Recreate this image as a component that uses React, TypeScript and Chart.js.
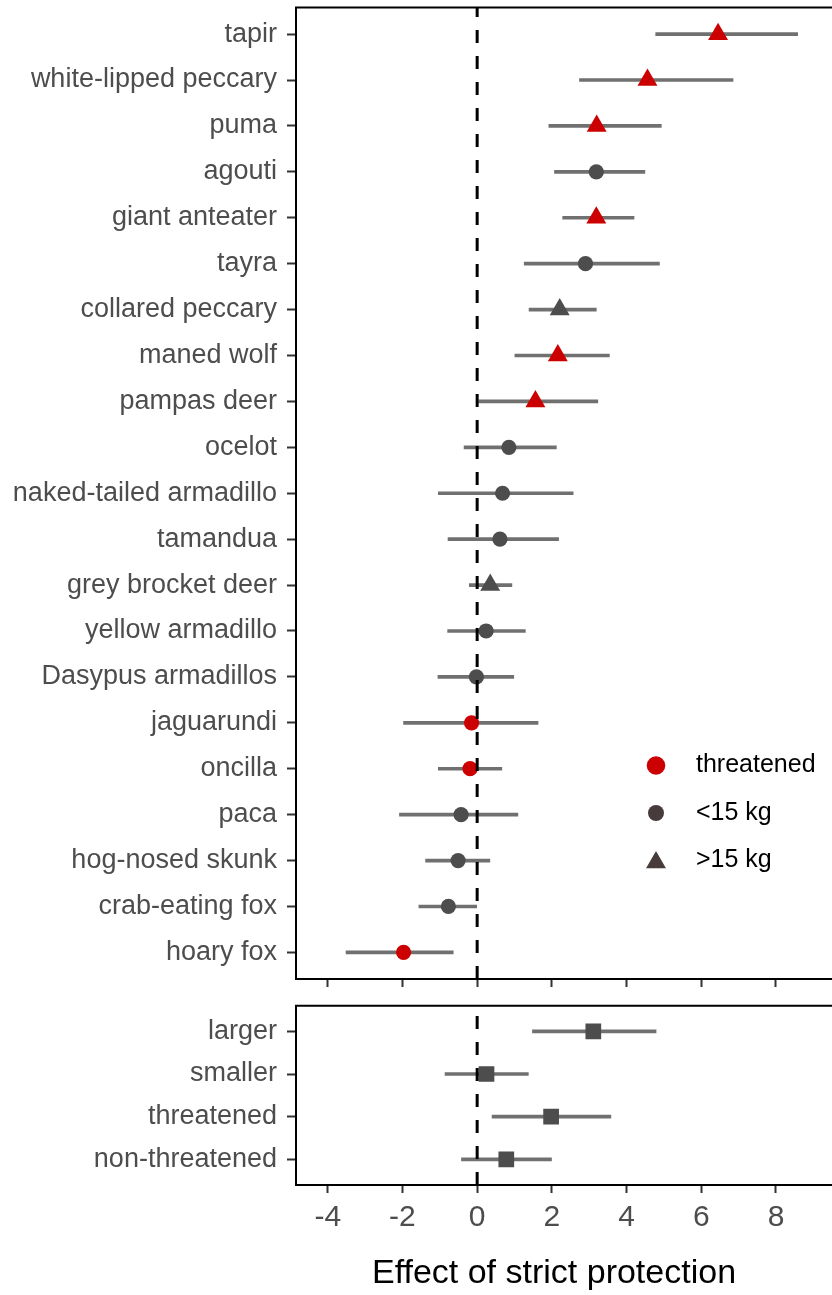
import React, { useEffect, useRef } from "react";
import { Chart, registerables } from "chart.js";

Chart.register(...registerables);

// ---------- data ----------
const species = [
  "tapir", "white-lipped peccary", "puma", "agouti", "giant anteater", "tayra",
  "collared peccary", "maned wolf", "pampas deer", "ocelot", "naked-tailed armadillo",
  "tamandua", "grey brocket deer", "yellow armadillo", "Dasypus armadillos",
  "jaguarundi", "oncilla", "paca", "hog-nosed skunk", "crab-eating fox", "hoary fox",
];
const estimate = [6.45, 4.56, 3.2, 3.19, 3.19, 2.9, 2.21, 2.16, 1.56, 0.85, 0.68, 0.61, 0.35, 0.24, -0.02, -0.15, -0.19, -0.43, -0.51, -0.77, -1.97];
const lower = [4.78, 2.74, 1.92, 2.07, 2.29, 1.26, 1.39, 1.01, 0.04, -0.35, -1.04, -0.78, -0.21, -0.79, -1.05, -1.97, -1.04, -2.08, -1.38, -1.56, -3.51];
const upper = [8.58, 6.85, 4.93, 4.49, 4.2, 4.88, 3.19, 3.54, 3.23, 2.12, 2.57, 2.18, 0.93, 1.29, 0.98, 1.63, 0.66, 1.09, 0.34, 0.0, -0.64];
const threatened = [true, true, true, false, true, false, false, true, true, false, false, false, false, false, false, true, true, false, false, false, true];
const large = [true, true, true, false, true, false, true, true, true, false, false, false, true, false, false, false, false, false, false, false, false];

const groups = ["larger", "smaller", "threatened", "non-threatened"];
const groupEstimate = [3.11, 0.25, 1.98, 0.78];
const groupLower = [1.48, -0.86, 0.4, -0.42];
const groupUpper = [4.79, 1.37, 3.58, 1.99];

const xTicks = [-4, -2, 0, 2, 4, 6, 8];
const legendLabels = ["threatened", "<15 kg", ">15 kg"];
const xTitle = "Effect of strict protection";

// ---------- style ----------
const FONT = "'Liberation Sans', Arial, Helvetica, sans-serif";
const RED = "#CC0000";
const DARK = "#4D4D4D";
const LEGEND_DARK = "#483B3B";
const BAR = "#707070";
const TEXT = "#4D4D4D";
const W = 832;
const TOP_H = 995;
const BOTTOM_H = 300;
const X_MIN = -4.85;
const X_MAX = 9.5;

Chart.defaults.font.family = FONT;

function zeroPadding(s: any) {
  s.paddingTop = 0;
  s.paddingBottom = 0;
  s.paddingLeft = 0;
  s.paddingRight = 0;
}

function yScale(labels: string[], pad: number) {
  return {
    type: "linear",
    reverse: true,
    offset: false,
    bounds: "data",
    min: -pad,
    max: labels.length - 1 + pad,
    afterBuildTicks: (s: any) => {
      s.ticks = labels.map((_, i) => ({ value: i }));
    },
    afterFit: (s: any) => {
      s.width = 296;
      zeroPadding(s);
    },
    ticks: {
      autoSkip: false,
      callback: (v: any) => labels[v] ?? "",
      font: { family: FONT, size: 27 },
      color: TEXT,
      padding: 10,
    },
    grid: { offset: false, drawOnChartArea: false, drawTicks: true, tickLength: 9, tickWidth: 2, tickColor: "#333333" },
    border: { display: true, color: "#000000", width: 2 },
  };
}

function xScale(showLabels: boolean, height: number) {
  return {
    type: "linear",
    position: "bottom",
    min: X_MIN,
    max: X_MAX,
    beginAtZero: false,
    afterBuildTicks: (s: any) => {
      s.ticks = xTicks.map((v) => ({ value: v }));
    },
    afterFit: (s: any) => {
      s.height = height;
      zeroPadding(s);
    },
    ticks: {
      display: showLabels,
      autoSkip: false,
      maxRotation: 0,
      font: { family: FONT, size: 30 },
      color: TEXT,
      padding: 7,
    },
    grid: { drawOnChartArea: false, drawTicks: true, tickLength: 8, tickWidth: 2, tickColor: "#333333" },
    border: { display: true, color: "#000000", width: 2 },
    title: { display: false },
  };
}

const zeroLine = {
  id: "zeroLine",
  afterDatasetsDraw(chart: any) {
    const { ctx, chartArea: a, scales } = chart;
    const px = scales.x.getPixelForValue(0);
    ctx.save();
    ctx.strokeStyle = "#000000";
    ctx.lineWidth = 3;
    ctx.setLineDash([13, 13]);
    ctx.beginPath();
    ctx.moveTo(px, a.bottom);
    ctx.lineTo(px, a.top);
    ctx.stroke();
    ctx.restore();
  },
};

const panelTop = {
  id: "panelTop",
  afterDraw(chart: any) {
    const { ctx, chartArea: a } = chart;
    ctx.save();
    ctx.strokeStyle = "#000000";
    ctx.lineWidth = 2;
    ctx.beginPath();
    ctx.moveTo(a.left - 1, a.top);
    ctx.lineTo(a.right + 2, a.top);
    ctx.stroke();
    ctx.restore();
  },
};

const axisTitle = {
  id: "axisTitle",
  afterDraw(chart: any) {
    const { ctx, chartArea: a } = chart;
    ctx.save();
    ctx.fillStyle = "#000000";
    ctx.font = `34px ${FONT}`;
    ctx.textAlign = "center";
    ctx.textBaseline = "middle";
    ctx.fillText(xTitle, a.left + 258, a.bottom + 89);
    ctx.restore();
  },
};

const legendPlugin = {
  id: "shapeLegend",
  afterDraw(chart: any) {
    const { ctx, chartArea: a } = chart;
    const cx = a.left + 360;
    const y0 = a.top + 758;
    const step = 47.5;
    ctx.save();
    // threatened: red circle
    ctx.fillStyle = RED;
    ctx.beginPath();
    ctx.arc(cx, y0, 9.3, 0, Math.PI * 2);
    ctx.fill();
    // <15 kg: dark circle
    ctx.fillStyle = LEGEND_DARK;
    ctx.beginPath();
    ctx.arc(cx, y0 + step, 8, 0, Math.PI * 2);
    ctx.fill();
    // >15 kg: dark triangle
    const ty = y0 + 2 * step + 2;
    const r = 11.5;
    ctx.beginPath();
    ctx.moveTo(cx, ty - r);
    ctx.lineTo(cx + (r * Math.sqrt(3)) / 2, ty + r / 2);
    ctx.lineTo(cx - (r * Math.sqrt(3)) / 2, ty + r / 2);
    ctx.closePath();
    ctx.fill();
    ctx.fillStyle = "#000000";
    ctx.font = `25px ${FONT}`;
    ctx.textBaseline = "middle";
    ctx.textAlign = "left";
    legendLabels.forEach((t, i) => ctx.fillText(t, cx + 40, y0 + i * step));
    ctx.restore();
  },
};

function pointSet(idx: number[], vals: number[], color: string, style: string, radius: number) {
  return {
    type: "scatter",
    data: idx.map((i) => ({ x: vals[i], y: i })),
    pointStyle: style,
    pointRadius: radius,
    pointHoverRadius: radius,
    backgroundColor: color,
    pointBackgroundColor: color,
    borderColor: color,
    pointBorderWidth: 0,
    borderWidth: 0,
    order: 1,
  };
}

function barSet(lo: number[], hi: number[]) {
  return {
    type: "bar",
    indexAxis: "y",
    data: lo.map((l, i) => ({ y: i, x: [l, hi[i]] })),
    backgroundColor: BAR,
    borderWidth: 0,
    barThickness: 3,
    order: 2,
  };
}

function baseOptions(padTop: number, scales: any) {
  return {
    responsive: false,
    animation: false,
    devicePixelRatio: 1,
    events: [],
    layout: { autoPadding: false, padding: { top: padTop, left: 0, right: 0, bottom: 0 } },
    plugins: { legend: { display: false }, tooltip: { enabled: false } },
    scales,
  };
}

function topConfig(): any {
  const all = species.map((_, i) => i);
  return {
    type: "scatter",
    data: {
      datasets: [
        pointSet(all.filter((i) => threatened[i] && !large[i]), estimate, RED, "circle", 7.6),
        pointSet(all.filter((i) => threatened[i] && large[i]), estimate, RED, "triangle", 11.5),
        pointSet(all.filter((i) => !threatened[i] && !large[i]), estimate, DARK, "circle", 7.6),
        pointSet(all.filter((i) => !threatened[i] && large[i]), estimate, DARK, "triangle", 11.5),
        barSet(lower, upper),
      ],
    },
    options: baseOptions(7.5, { x: xScale(false, TOP_H - 979), y: yScale(species, 0.58) }),
    plugins: [zeroLine, panelTop, legendPlugin],
  };
}

function bottomConfig(): any {
  const all = groups.map((_, i) => i);
  return {
    type: "scatter",
    data: {
      datasets: [
        pointSet(all, groupEstimate, DARK, "rect", 11.1),
        barSet(groupLower, groupUpper),
      ],
    },
    options: baseOptions(10.7, { x: xScale(true, 110), y: yScale(groups, 0.6) }),
    plugins: [zeroLine, panelTop, axisTitle],
  };
}

export default function App() {
  const topRef = useRef<HTMLCanvasElement>(null);
  const botRef = useRef<HTMLCanvasElement>(null);
  useEffect(() => {
    const c1 = new Chart(topRef.current as HTMLCanvasElement, topConfig());
    const c2 = new Chart(botRef.current as HTMLCanvasElement, bottomConfig());
    return () => {
      c1.destroy();
      c2.destroy();
    };
  }, []);
  return (
    <div style={{ position: "absolute", left: 0, top: 0, width: W, height: TOP_H + BOTTOM_H, background: "#ffffff", overflow: "hidden" }}>
      <canvas ref={topRef} width={W} height={TOP_H} style={{ position: "absolute", left: 0, top: 0 }} />
      <canvas ref={botRef} width={W} height={BOTTOM_H} style={{ position: "absolute", left: 0, top: TOP_H }} />
    </div>
  );
}
